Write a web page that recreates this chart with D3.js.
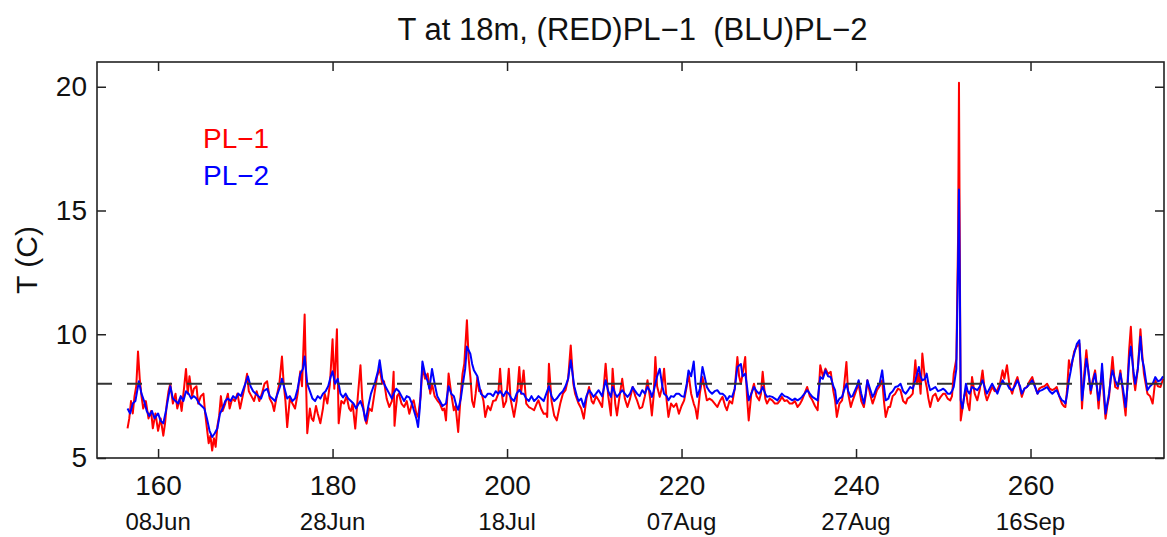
<!DOCTYPE html>
<html><head><meta charset="utf-8">
<script src="https://cdn.jsdelivr.net/npm/d3@7"></script>
<style>
html,body{margin:0;padding:0;background:#fff;}
svg{display:block;font-family:"Liberation Sans",Arial,sans-serif;}
</style></head><body>
<svg id="chart" width="1167" height="537"></svg>
<script>
const titleText = "T at 18m, (RED)PL\u22121  (BLU)PL\u22122";
const yLabel = "T (C)";
const xTicks = [160, 180, 200, 220, 240, 260];
const dateLabels = ["08Jun", "28Jun", "18Jul", "07Aug", "27Aug", "16Sep"];
const yTicks = [5, 10, 15, 20];
const refLevel = 8;
const legendNames = ["PL\u22121", "PL\u22122"];

// PL-1 (red): [day of year, temperature C]
const pl1 = [[156.5,6.2],[156.7,6.6],[156.9,7.3],[157.1,6.8],[157.3,7.5],[157.5,7.9],[157.7,9.3],[157.9,8.2],[158.1,7.5],[158.3,7.0],[158.6,7.3],[158.9,6.6],[159.2,6.9],[159.4,6.2],[159.7,6.8],[160.0,6.1],[160.3,6.6],[160.6,5.9],[160.8,6.4],[161.0,7.2],[161.2,7.7],[161.4,8.0],[161.7,7.2],[162.0,7.6],[162.2,7.0],[162.5,7.4],[162.7,6.9],[163.0,7.9],[163.2,8.6],[163.4,7.6],[163.6,8.3],[163.9,7.5],[164.1,7.8],[164.4,7.9],[164.6,7.2],[164.9,7.5],[165.2,7.6],[165.4,6.8],[165.6,6.2],[165.8,5.6],[166.0,5.9],[166.2,5.3],[166.4,5.8],[166.6,5.45],[166.8,6.3],[167.0,6.7],[167.2,7.5],[167.4,6.9],[167.7,7.2],[168.0,7.6],[168.2,7.0],[168.5,7.4],[168.8,7.3],[169.1,7.6],[169.4,7.0],[169.7,7.5],[170.0,8.0],[170.2,8.4],[170.4,7.7],[170.7,7.5],[171.0,7.3],[171.3,7.7],[171.6,7.3],[171.9,7.6],[172.2,8.0],[172.5,8.1],[172.8,7.4],[173.1,7.2],[173.3,6.9],[173.6,7.5],[173.9,8.0],[174.2,9.1],[174.4,8.0],[174.6,7.3],[174.8,6.25],[175.1,7.4],[175.4,7.2],[175.7,7.0],[176.0,7.6],[176.3,8.5],[176.5,7.9],[176.8,10.8],[177.0,7.5],[177.1,6.0],[177.4,7.0],[177.6,6.6],[177.8,6.5],[178.1,7.1],[178.3,6.8],[178.6,6.4],[178.9,7.0],[179.1,7.6],[179.4,7.2],[179.7,8.0],[180.0,9.8],[180.2,7.8],[180.5,10.2],[180.7,6.4],[181.0,7.3],[181.3,7.2],[181.6,7.5],[181.9,7.0],[182.1,6.9],[182.3,7.2],[182.6,6.19],[182.9,7.5],[183.2,8.75],[183.4,7.4],[183.7,6.6],[183.9,6.39],[184.2,7.0],[184.5,6.9],[184.8,7.6],[185.1,8.3],[185.4,8.6],[185.7,8.0],[185.9,8.1],[186.2,7.4],[186.5,7.06],[186.8,7.3],[187.0,8.48],[187.1,6.3],[187.4,7.5],[187.6,7.6],[187.9,7.2],[188.2,7.06],[188.5,7.3],[188.8,6.79],[189.1,7.2],[189.3,7.33],[189.6,6.8],[189.8,6.66],[190.1,7.5],[190.3,8.68],[190.6,8.2],[190.9,8.41],[191.2,7.6],[191.4,8.0],[191.7,7.5],[192.0,7.33],[192.3,7.2],[192.6,6.93],[192.8,7.0],[193.0,6.52],[193.3,8.41],[193.6,7.6],[193.9,6.93],[194.1,7.1],[194.4,6.05],[194.7,7.6],[194.9,8.41],[195.1,8.81],[195.4,10.57],[195.6,9.0],[195.8,8.27],[196.0,7.3],[196.2,7.06],[196.4,7.6],[196.6,8.27],[196.8,7.7],[197.0,7.74],[197.3,7.3],[197.5,6.66],[197.8,7.1],[198.1,6.93],[198.4,7.3],[198.7,7.33],[199.0,7.6],[199.2,8.61],[199.4,7.6],[199.6,7.06],[199.9,7.3],[200.2,8.61],[200.4,7.4],[200.8,6.66],[201.1,7.3],[201.4,8.68],[201.6,7.6],[201.9,8.54],[202.2,7.2],[202.5,7.06],[202.8,7.0],[203.1,6.93],[203.4,7.2],[203.6,7.33],[203.9,7.0],[204.2,6.79],[204.5,6.8],[204.6,6.66],[204.8,8.81],[205.1,7.3],[205.4,6.72],[205.7,6.52],[206.1,7.2],[206.4,7.6],[206.7,7.74],[207.0,8.2],[207.3,9.55],[207.6,8.0],[207.8,7.6],[208.2,7.2],[208.5,7.0],[208.8,6.59],[209.1,7.4],[209.4,7.87],[209.7,7.3],[209.9,7.2],[210.2,7.5],[210.5,7.33],[210.9,7.06],[211.3,8.81],[211.6,7.5],[211.9,6.72],[212.1,8.61],[212.4,7.2],[212.6,6.72],[212.9,7.5],[213.2,8.2],[213.5,7.4],[213.8,7.06],[214.1,7.4],[214.4,7.87],[214.7,7.5],[214.9,7.33],[215.2,7.0],[215.5,7.06],[215.8,7.5],[216.1,8.14],[216.4,7.4],[216.6,6.72],[216.8,7.5],[217.0,9.08],[217.2,7.9],[217.5,7.47],[217.8,7.9],[218.0,8.61],[218.3,7.3],[218.5,6.66],[218.8,7.2],[219.1,7.06],[219.4,7.2],[219.7,6.79],[220.0,7.1],[220.3,7.33],[220.6,7.9],[220.8,8.41],[221.1,7.6],[221.4,7.2],[221.6,7.0],[221.8,6.59],[222.1,7.6],[222.4,8.27],[222.7,7.7],[222.9,7.33],[223.2,7.4],[223.5,7.33],[223.8,7.2],[224.1,7.06],[224.4,7.3],[224.7,7.47],[225.0,7.1],[225.2,6.93],[225.5,7.3],[225.8,7.2],[226.1,7.8],[226.4,9.08],[226.6,8.3],[226.8,8.0],[227.0,8.4],[227.3,9.08],[227.5,7.5],[227.7,6.52],[228.0,7.6],[228.3,8.0],[228.6,7.5],[228.9,7.33],[229.1,7.6],[229.3,8.48],[229.6,7.4],[229.8,7.2],[230.1,7.4],[230.4,7.33],[230.7,7.2],[231.0,7.2],[231.3,7.33],[231.5,7.47],[231.8,7.3],[232.1,7.33],[232.4,7.2],[232.7,7.2],[233.0,7.3],[233.3,7.06],[233.6,7.2],[233.8,7.33],[234.1,7.6],[234.4,7.87],[234.7,7.5],[235.0,7.33],[235.3,7.1],[235.6,6.93],[235.9,8.75],[236.2,8.3],[236.5,8.61],[236.8,8.4],[237.1,8.48],[237.4,7.7],[237.6,7.33],[237.8,6.66],[238.1,7.2],[238.4,7.33],[238.6,7.8],[238.9,8.88],[239.1,7.6],[239.4,7.06],[239.6,7.3],[239.9,7.6],[240.1,7.8],[240.3,8.0],[240.6,7.3],[240.9,7.06],[241.1,7.5],[241.3,8.14],[241.6,7.6],[241.9,7.2],[242.1,7.4],[242.4,7.74],[242.7,7.9],[243.0,8.14],[243.2,7.3],[243.4,6.66],[243.7,7.06],[243.9,7.06],[244.2,7.5],[244.5,7.6],[244.8,7.8],[245.1,7.74],[245.4,7.3],[245.7,7.2],[245.9,7.4],[246.2,7.47],[246.5,7.6],[246.8,8.95],[247.0,8.0],[247.2,8.41],[247.4,7.6],[247.6,9.22],[247.9,8.2],[248.1,7.87],[248.3,7.4],[248.5,7.06],[248.8,7.5],[249.1,7.6],[249.4,7.3],[249.7,7.47],[250.0,7.6],[250.2,7.6],[250.5,7.4],[250.8,7.33],[251.0,7.5],[251.2,8.41],[251.5,9.0],[251.7,14.0],[251.8,20.16],[251.9,13.0],[252.0,6.52],[252.2,7.0],[252.4,7.5],[252.6,7.74],[252.8,7.2],[253.0,6.93],[253.3,8.27],[253.6,7.6],[253.9,7.33],[254.2,7.8],[254.5,8.54],[254.8,7.6],[255.0,7.33],[255.3,7.6],[255.6,7.87],[255.9,7.7],[256.2,7.74],[256.5,8.0],[256.8,8.54],[257.0,8.2],[257.3,8.75],[257.6,7.9],[257.9,7.6],[258.2,8.0],[258.5,8.27],[258.8,7.8],[259.0,7.47],[259.3,7.8],[259.6,7.87],[259.9,8.1],[260.2,8.27],[260.5,7.9],[260.8,7.6],[261.0,7.8],[261.3,7.87],[261.6,7.9],[261.9,8.0],[262.2,7.8],[262.5,7.74],[262.8,7.8],[263.0,7.87],[263.3,7.5],[263.6,7.2],[263.8,7.1],[264.0,7.06],[264.2,7.8],[264.4,8.95],[264.6,8.6],[264.8,8.9],[265.0,9.3],[265.3,9.5],[265.6,9.62],[265.8,8.2],[265.9,7.0],[266.1,8.2],[266.4,9.35],[266.6,8.6],[266.9,7.6],[267.1,8.1],[267.4,8.54],[267.6,7.9],[267.8,7.0],[268.0,7.9],[268.2,8.54],[268.4,7.5],[268.6,6.59],[268.8,7.1],[269.0,7.47],[269.2,8.3],[269.4,9.08],[269.7,7.87],[270.0,7.8],[270.3,8.54],[270.6,7.6],[270.9,6.72],[271.1,7.9],[271.3,9.35],[271.5,10.3],[271.8,8.3],[272.0,7.74],[272.3,8.6],[272.6,10.2],[272.8,9.2],[273.0,8.41],[273.2,8.0],[273.4,7.6],[273.7,7.5],[274.0,7.2],[274.3,8.14],[274.6,7.9],[274.9,7.87],[275.2,8.2]];

// PL-2 (blue): [day of year, temperature C]
const pl2 = [[156.5,7.0],[156.8,6.8],[157.1,7.2],[157.4,7.3],[157.8,8.1],[158.1,7.6],[158.4,7.3],[158.7,6.9],[159.0,6.7],[159.3,6.9],[159.6,6.6],[160.0,6.8],[160.3,6.5],[160.6,6.4],[160.9,6.9],[161.2,7.5],[161.4,7.9],[161.7,7.4],[162.0,7.3],[162.3,7.2],[162.6,7.5],[162.9,7.3],[163.2,7.7],[163.5,7.6],[163.8,7.4],[164.1,7.5],[164.4,7.4],[164.7,7.2],[165.0,7.1],[165.3,7.0],[165.6,6.6],[165.9,6.1],[166.2,5.85],[166.5,6.0],[166.8,6.2],[167.1,6.8],[167.4,7.0],[167.7,7.3],[168.0,7.4],[168.3,7.3],[168.6,7.5],[168.9,7.4],[169.2,7.6],[169.5,7.5],[169.8,7.8],[170.1,8.1],[170.3,8.3],[170.6,7.9],[170.9,7.7],[171.2,7.6],[171.5,7.5],[171.8,7.4],[172.1,7.7],[172.5,7.8],[172.8,7.5],[173.1,7.4],[173.4,7.3],[173.7,7.6],[174.0,7.9],[174.2,8.2],[174.5,7.8],[174.8,7.4],[175.1,7.5],[175.4,7.3],[175.7,7.4],[176.0,7.8],[176.3,8.4],[176.6,8.6],[176.8,9.1],[177.1,8.0],[177.4,7.7],[177.7,7.4],[178.0,7.3],[178.3,7.5],[178.6,7.4],[178.9,7.6],[179.2,7.7],[179.5,7.9],[179.8,8.3],[180.0,8.5],[180.3,8.0],[180.6,8.2],[180.9,7.6],[181.2,7.45],[181.5,7.6],[181.8,7.4],[182.1,7.3],[182.4,7.2],[182.7,7.0],[183.0,7.2],[183.2,7.3],[183.5,7.0],[183.8,6.5],[184.1,7.1],[184.4,7.6],[184.7,7.9],[184.9,8.1],[185.2,8.5],[185.4,8.95],[185.7,8.2],[185.9,8.0],[186.2,7.8],[186.5,7.6],[186.8,7.4],[187.0,7.6],[187.3,7.8],[187.6,7.7],[187.9,7.5],[188.2,7.3],[188.5,7.5],[188.8,7.45],[189.1,7.2],[189.3,6.95],[189.6,6.6],[189.8,6.25],[190.0,7.0],[190.3,8.9],[190.6,8.4],[190.9,8.1],[191.1,7.8],[191.4,8.6],[191.7,8.0],[192.0,7.5],[192.3,7.3],[192.6,7.1],[193.0,7.2],[193.3,7.9],[193.6,7.6],[193.9,7.5],[194.2,7.1],[194.4,6.95],[194.7,7.4],[194.9,7.9],[195.2,8.6],[195.4,9.5],[195.8,9.2],[196.0,8.8],[196.2,8.55],[196.6,8.3],[197.0,7.6],[197.3,7.5],[197.5,7.45],[197.8,7.6],[198.1,7.6],[198.4,7.5],[198.7,7.7],[199.0,7.6],[199.2,7.7],[199.6,7.5],[199.9,7.7],[200.2,7.6],[200.5,7.4],[200.8,7.3],[201.1,7.6],[201.4,7.75],[201.7,7.6],[201.9,7.6],[202.2,7.4],[202.5,7.3],[202.8,7.5],[203.1,7.3],[203.4,7.4],[203.6,7.5],[203.9,7.4],[204.2,7.3],[204.5,7.6],[204.8,7.9],[205.1,7.5],[205.4,7.3],[205.7,7.4],[206.1,7.6],[206.4,7.7],[206.7,7.9],[207.0,8.2],[207.3,8.95],[207.7,7.9],[208.0,7.5],[208.2,7.3],[208.5,7.4],[208.8,7.06],[209.1,7.5],[209.4,7.74],[209.7,7.6],[209.9,7.47],[210.2,7.6],[210.5,7.74],[210.9,7.5],[211.3,8.14],[211.6,7.7],[211.9,7.47],[212.1,7.87],[212.4,7.6],[212.6,7.47],[212.9,7.6],[213.2,7.74],[213.5,7.6],[213.8,7.47],[214.1,7.6],[214.4,7.87],[214.7,7.7],[214.9,7.6],[215.2,7.5],[215.5,7.74],[215.8,7.6],[216.1,7.87],[216.4,7.7],[216.6,7.47],[216.8,7.7],[217.0,8.0],[217.2,8.3],[217.5,8.6],[217.8,7.9],[218.0,7.6],[218.3,7.5],[218.5,7.33],[218.8,7.5],[219.1,7.47],[219.4,7.6],[219.7,7.6],[220.0,7.5],[220.3,7.47],[220.6,8.0],[220.8,8.54],[221.1,8.3],[221.4,8.9],[221.6,8.0],[221.8,7.47],[222.1,7.8],[222.4,8.68],[222.7,8.2],[222.9,7.87],[223.2,7.7],[223.5,7.6],[223.8,7.7],[224.1,7.74],[224.4,7.6],[224.7,7.6],[225.0,7.5],[225.2,7.33],[225.5,7.5],[225.8,7.47],[226.1,7.8],[226.4,8.68],[226.8,8.8],[227.0,8.3],[227.3,8.41],[227.5,7.9],[227.7,7.33],[228.0,7.6],[228.3,7.87],[228.6,7.7],[228.9,7.6],[229.1,7.7],[229.3,7.87],[229.6,7.6],[229.8,7.47],[230.1,7.5],[230.4,7.47],[230.7,7.4],[231.0,7.33],[231.3,7.5],[231.5,7.6],[231.8,7.5],[232.1,7.47],[232.4,7.4],[232.7,7.33],[233.0,7.4],[233.3,7.33],[233.6,7.4],[233.8,7.47],[234.1,7.6],[234.4,7.74],[234.7,7.6],[235.0,7.47],[235.3,7.4],[235.6,7.33],[235.9,8.27],[236.2,8.2],[236.5,8.54],[236.8,8.3],[237.1,8.27],[237.4,7.9],[237.6,7.74],[237.8,7.2],[238.1,7.4],[238.4,7.47],[238.6,7.7],[238.9,8.0],[239.1,7.7],[239.4,7.47],[239.6,7.5],[239.9,7.74],[240.1,7.9],[240.3,8.14],[240.6,7.6],[240.9,7.2],[241.1,7.6],[241.3,8.14],[241.6,7.8],[241.9,7.47],[242.1,7.6],[242.4,7.87],[242.7,8.0],[243.0,8.54],[243.2,7.9],[243.4,7.33],[243.7,7.4],[243.9,7.6],[244.2,7.7],[244.5,7.87],[244.8,7.9],[245.1,8.0],[245.4,7.7],[245.7,7.6],[245.9,7.7],[246.2,7.87],[246.5,7.8],[246.8,8.14],[247.0,8.4],[247.2,8.68],[247.4,8.3],[247.6,8.14],[247.9,8.2],[248.1,8.41],[248.3,8.0],[248.5,7.74],[248.8,7.8],[249.1,7.87],[249.4,7.7],[249.7,7.74],[250.0,7.8],[250.2,7.74],[250.5,7.6],[250.8,7.6],[251.0,7.7],[251.2,7.87],[251.5,8.6],[251.7,13.0],[251.8,15.85],[251.9,12.0],[252.0,7.33],[252.2,7.0],[252.4,7.5],[252.6,8.0],[252.8,7.7],[253.0,7.6],[253.3,7.87],[253.6,7.8],[253.9,7.74],[254.2,7.9],[254.5,8.14],[254.8,7.8],[255.0,7.6],[255.3,7.8],[255.6,8.0],[255.9,7.8],[256.2,7.6],[256.5,7.9],[256.8,8.14],[257.0,8.0],[257.3,8.0],[257.6,7.8],[257.9,7.74],[258.2,7.9],[258.5,8.14],[258.8,7.9],[259.0,7.6],[259.3,7.8],[259.6,7.87],[259.9,8.0],[260.2,8.14],[260.5,7.9],[260.8,7.6],[261.0,7.7],[261.3,7.74],[261.6,7.8],[261.9,7.87],[262.2,7.7],[262.5,7.6],[262.8,7.7],[263.0,7.74],[263.3,7.5],[263.6,7.33],[263.8,7.3],[264.0,7.2],[264.2,7.6],[264.4,8.14],[264.6,8.5],[264.8,8.95],[265.0,9.2],[265.3,9.6],[265.6,9.76],[265.8,8.5],[265.9,7.33],[266.1,7.9],[266.4,9.0],[266.6,8.6],[266.9,7.74],[267.1,8.0],[267.4,8.41],[267.6,7.9],[267.8,7.33],[268.0,7.8],[268.2,8.81],[268.4,7.8],[268.6,6.79],[268.8,7.2],[269.0,7.6],[269.2,8.2],[269.4,8.54],[269.7,8.14],[270.0,7.9],[270.3,8.41],[270.6,7.8],[270.9,7.06],[271.1,7.8],[271.3,8.95],[271.5,9.5],[271.8,8.5],[272.0,8.0],[272.3,8.6],[272.6,9.9],[272.8,9.0],[273.0,8.68],[273.2,8.2],[273.4,7.74],[273.7,7.9],[274.0,8.0],[274.3,8.27],[274.6,8.1],[274.9,8.14],[275.2,8.3]];

const svg = d3.select("#chart");
const L = 97, R = 1164, T = 62, B = 458;
const x = d3.scaleLinear().domain([153, 275.3]).range([L, R]);
const y = d3.scaleLinear().domain([5, 21]).range([B, T]);
const axisColor = "#222";

const clipId = "plotclip";
svg.append("defs").append("clipPath").attr("id", clipId)
  .append("rect").attr("x", L).attr("y", T).attr("width", R - L).attr("height", B - T);

const line = d3.line().x(d => x(d[0])).y(d => y(d[1]));
const plot = svg.append("g").attr("clip-path", `url(#${clipId})`);
plot.append("path").datum(pl1).attr("d", line)
  .attr("fill", "none").attr("stroke", "#ff0000").attr("stroke-width", 2).attr("stroke-linejoin", "round");
plot.append("path").datum(pl2).attr("d", line)
  .attr("fill", "none").attr("stroke", "#0000ff").attr("stroke-width", 2).attr("stroke-linejoin", "round");

// reference dashed line
svg.append("line")
  .attr("x1", L).attr("x2", R).attr("y1", y(refLevel)).attr("y2", y(refLevel))
  .attr("stroke", "#333").attr("stroke-width", 1.8).attr("stroke-dasharray", "15,15");

// axes (ticks inside)
const tickLen = 9;
const gB = svg.append("g").attr("transform", `translate(0,${B})`)
  .call(d3.axisBottom(x).tickValues(xTicks).tickSize(-tickLen).tickPadding(17).tickFormat(d3.format("d")));
const gT = svg.append("g").attr("transform", `translate(0,${T})`)
  .call(d3.axisTop(x).tickValues(xTicks).tickSize(-tickLen).tickFormat(""));
const gL = svg.append("g").attr("transform", `translate(${L},0)`)
  .call(d3.axisLeft(y).tickValues(yTicks).tickSize(-tickLen).tickPadding(10).tickFormat(d3.format("d")));
const gR = svg.append("g").attr("transform", `translate(${R},0)`)
  .call(d3.axisRight(y).tickValues(yTicks).tickSize(-tickLen).tickFormat(""));
[gB, gT, gL, gR].forEach(g => {
  g.select(".domain").remove();
  g.selectAll(".tick line").attr("stroke", axisColor).attr("stroke-width", 1.5);
  g.selectAll("text").attr("fill", "#111").style("font-size", "28px").style("font-family", "'Liberation Sans', Arial, sans-serif");
});
// box
svg.append("rect").attr("x", L).attr("y", T).attr("width", R - L).attr("height", B - T)
  .attr("fill", "none").attr("stroke", axisColor).attr("stroke-width", 1.6);

// date labels under tick numbers
svg.append("g").selectAll("text").data(xTicks).join("text")
  .attr("x", d => x(d)).attr("y", 530)
  .attr("text-anchor", "middle").attr("fill", "#111")
  .style("font-size", "24px")
  .text((d, i) => dateLabels[i]);

// title
svg.append("text").attr("x", (L + R) / 2 + 2).attr("y", 40)
  .attr("text-anchor", "middle").attr("fill", "#111").style("font-size", "31px")
  .style("white-space", "pre").attr("xml:space", "preserve")
  .text(titleText);

// y label
svg.append("text").attr("transform", `translate(37,${(T + B) / 2}) rotate(-90)`)
  .attr("text-anchor", "middle").attr("fill", "#111").style("font-size", "30px")
  .text(yLabel);

// legend
const legendColors = ["#ff0000", "#0000ff"];
svg.append("g").selectAll("text").data(legendNames).join("text")
  .attr("x", 203).attr("y", (d, i) => 148 + i * 37)
  .attr("fill", (d, i) => legendColors[i]).style("font-size", "28px")
  .text(d => d);
</script>
</body></html>
